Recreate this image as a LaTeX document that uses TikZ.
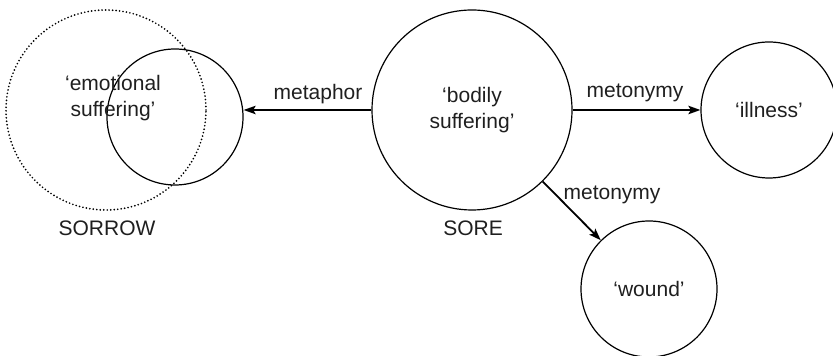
\documentclass[tikz,border=0pt]{standalone}
\usepackage{fontspec}
\setmainfont{Liberation Sans}
\usetikzlibrary{arrows.meta}
\begin{document}
\begin{tikzpicture}[x=0.5pt,y=-0.5pt,
  every node/.style={font=\fontsize{10.5pt}{13pt}\selectfont, align=center, text=black!88},
  sense/.style={circle, draw, line width=0.6pt, inner sep=0pt},
  bigsense/.style={sense, minimum size=100pt},
  smallsense/.style={sense, minimum size=68pt},
  field/.style={circle, draw, line width=0.95pt, inner sep=0pt, minimum size=100pt,
    dash pattern=on 0pt off 1.75pt, line cap=round},
  link/.style={line width=0.9pt, -{Stealth[length=6pt,width=4.2pt,inset=1.2pt]}},
  lbl/.style={inner sep=0pt}]
  \useasboundingbox (0,0) rectangle (833,356);

  % word senses
  \node[field] (sorrowfield) at (106,110) {};
  \node[smallsense] (emo) at (175,117) {};
  \node[lbl] (emotext) at (113,98) {‘emotional\\suffering’};
  \node[bigsense] (sore) at (472,110) {‘bodily\\suffering’};
  \node[smallsense] (ill) at (769,110) {‘illness’};
  \node[smallsense] (wound) at (649,289) {‘wound’};

  % word labels
  \node[lbl] (sorrowlbl) at (107,228) {SORROW};
  \node[lbl] (sorelbl) at (473,228) {SORE};

  % semantic extensions
  \draw[link] (sore.west) -- (emo.east |- sore.west);
  \draw[link] (sore.east) -- (ill.west);
  \draw[link] (sore) -- (wound);

  \node[lbl] (metaphorlbl) at (318,94) {metaphor};
  \node[lbl] (metonlbl) at (635,93) {metonymy};
  \node[lbl] (metondiag) at (612,195) {metonymy};
\end{tikzpicture}
\end{document}
